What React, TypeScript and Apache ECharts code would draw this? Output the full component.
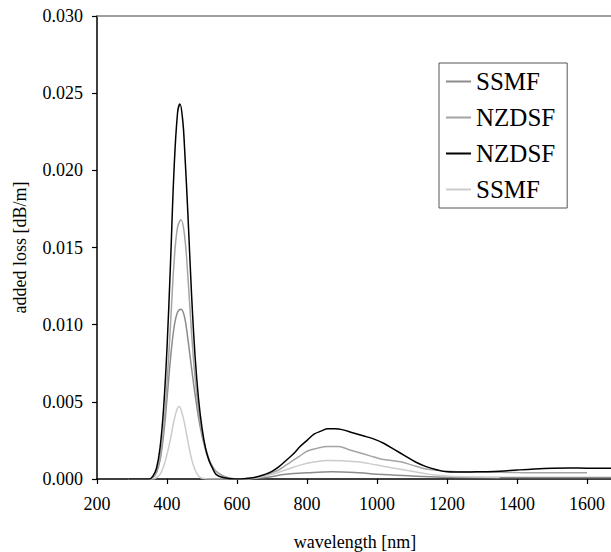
import React, { useEffect, useRef } from "react";
import * as echarts from "echarts";

// wavelength [nm], added loss [dB/m]
const ssmfA: [number, number][] = [
  [290, 0], [350, 0], [360, 0.0001], [370, 0.0004], [380, 0.0012], [390, 0.0028], [400, 0.0052],
  [410, 0.0078], [420, 0.0098], [430, 0.0108], [440, 0.011], [450, 0.0105], [460, 0.009],
  [470, 0.0072], [480, 0.0055], [490, 0.004], [500, 0.0028], [510, 0.0019], [520, 0.0012],
  [530, 0.0008], [540, 0.0005], [560, 0.0002], [580, 0.00005], [600, 0], [620, 0],
  [680, 0.0001], [740, 0.0003], [800, 0.0004], [870, 0.00047], [950, 0.0004], [1000, 0.0003],
  [1100, 0.0002], [1200, 0.00012], [1400, 0.0001], [1674, 0.0001],
];
const nzdsfB: [number, number][] = [
  [290, 0], [350, 0], [360, 0.0001], [370, 0.0005], [380, 0.0014], [390, 0.0032], [400, 0.0062],
  [410, 0.01], [420, 0.014], [430, 0.0163], [440, 0.0168], [450, 0.0158], [460, 0.013],
  [470, 0.0095], [480, 0.0066], [490, 0.0045], [500, 0.003], [510, 0.002], [520, 0.0013],
  [530, 0.0008], [540, 0.0005], [560, 0.0002], [580, 0.00005], [600, 0], [620, 0.00002],
  [650, 0.0001], [680, 0.0002], [700, 0.0004], [720, 0.0006], [740, 0.0009], [760, 0.0012],
  [780, 0.0015], [800, 0.0018], [830, 0.002], [860, 0.0021], [890, 0.0021], [920, 0.0019],
  [950, 0.0017], [980, 0.0015], [1010, 0.0013], [1040, 0.0012], [1070, 0.0011], [1100, 0.0009],
  [1130, 0.0007], [1160, 0.0006], [1200, 0.0005], [1300, 0.00045], [1400, 0.00042],
  [1500, 0.0004], [1600, 0.0004],
];
const nzdsfC: [number, number][] = [
  [290, 0], [350, 0], [360, 0.0002], [370, 0.0007], [380, 0.002], [390, 0.0045], [400, 0.0085],
  [410, 0.014], [420, 0.02], [430, 0.0237], [437, 0.0243], [445, 0.0232], [450, 0.0215],
  [460, 0.017], [470, 0.012], [480, 0.008], [490, 0.0052], [500, 0.0033], [510, 0.002],
  [520, 0.0012], [530, 0.0007], [540, 0.0003], [560, 0.0001], [600, 0], [620, 0.00002],
  [650, 0.0001], [680, 0.0003], [700, 0.0005], [720, 0.0008], [740, 0.0012], [760, 0.0016],
  [780, 0.0021], [800, 0.0025], [820, 0.0029], [840, 0.0031], [860, 0.00325], [880, 0.00325],
  [900, 0.0032], [930, 0.003], [960, 0.0028], [990, 0.0026], [1020, 0.0023], [1050, 0.0019],
  [1080, 0.0015], [1110, 0.0011], [1140, 0.0008], [1170, 0.0006], [1200, 0.00047],
  [1250, 0.00045], [1300, 0.00047], [1350, 0.0005], [1400, 0.00058], [1450, 0.00065],
  [1500, 0.0007], [1550, 0.00072], [1600, 0.0007], [1674, 0.0007],
];
const ssmfD: [number, number][] = [
  [290, 0], [360, 0], [370, 0.0001], [380, 0.0003], [390, 0.0008], [400, 0.0016], [410, 0.0026],
  [420, 0.0038], [430, 0.0046], [435, 0.0047], [440, 0.0045], [450, 0.0036], [460, 0.0024],
  [470, 0.0013], [480, 0.0006], [490, 0.0002], [500, 0.00005], [520, 0], [620, 0],
  [660, 0.0001], [700, 0.0003], [740, 0.0006], [780, 0.0009], [820, 0.0011], [860, 0.0012],
  [900, 0.00118], [950, 0.0011], [1000, 0.0009], [1050, 0.0007], [1100, 0.0005], [1150, 0.0003],
  [1200, 0.0002], [1250, 0.00015], [1350, 0.0001],
];

const seriesNames = ["SSMF#1", "NZDSF#2", "NZDSF#3", "SSMF#4"];
const seriesColors = ["#8c8c8c", "#a4a4a4", "#000000", "#cccccc"];
const seriesData = [ssmfA, nzdsfB, nzdsfC, ssmfD];

const FONT = "Liberation Serif";

export default function App() {
  const ref = useRef<HTMLDivElement>(null);
  useEffect(() => {
    if (!ref.current) return;
    const chart = echarts.init(ref.current, undefined, { renderer: "svg" });
    chart.setOption({
      animation: false,
      textStyle: { fontFamily: FONT },
      grid: { left: 97, top: 16, bottom: 73, right: -2, containLabel: false, outerBoundsMode: "none" },
      legend: {
        orient: "vertical",
        left: 439,
        top: 63,
        padding: [6, 12, 6, 7],
        itemGap: 11,
        itemWidth: 25,
        itemHeight: 2,
        icon: "rect",
        borderColor: "#555",
        borderWidth: 1,
        backgroundColor: "#fff",
        data: seriesNames,
        formatter: (name: string) => name.split("#")[0],
        textStyle: { fontFamily: FONT, fontSize: 25, color: "#000", lineHeight: 25 },
      },
      xAxis: [
        {
          type: "value",
          min: 200,
          max: 1674,
          interval: 200,
          name: "wavelength [nm]",
          nameLocation: "middle",
          nameGap: 54,
          nameTextStyle: { fontFamily: FONT, fontSize: 18, color: "#000" },
          axisLine: { show: true, lineStyle: { color: "#000", width: 1.5 } },
          axisTick: { show: true, inside: false, length: 5, lineStyle: { color: "#000", width: 1.2 } },
          axisLabel: {
            margin: 16,
            fontFamily: FONT,
            fontSize: 18,
            color: "#000",
            showMaxLabel: false,
            formatter: (v: number) => String(v),
          },
          splitLine: { show: false },
        },
        {
          type: "value",
          position: "top",
          min: 200,
          max: 1674,
          axisLine: { show: true, onZero: false, lineStyle: { color: "#808080", width: 1.5 } },
          axisTick: { show: false },
          axisLabel: { show: false },
          splitLine: { show: false },
        },
      ],
      yAxis: {
        type: "value",
        min: 0,
        max: 0.03,
        interval: 0.005,
        name: "added loss [dB/m]",
        nameLocation: "middle",
        nameGap: 68,
        nameRotate: 90,
        nameTextStyle: { fontFamily: FONT, fontSize: 18, color: "#000" },
        axisLine: { show: true, lineStyle: { color: "#000", width: 1.5 } },
        axisTick: { show: true, inside: false, length: 5, lineStyle: { color: "#000", width: 1.2 } },
        axisLabel: {
          margin: 14,
          fontFamily: FONT,
          fontSize: 18,
          color: "#000",
          formatter: (v: number) => v.toFixed(3),
        },
        splitLine: { show: false },
      },
      series: seriesData.map((d, i) => ({
        type: "line",
        name: seriesNames[i],
        data: d,
        xAxisIndex: 0,
        showSymbol: false,
        symbol: "none",
        smooth: 0.4,
        color: seriesColors[i],
        lineStyle: { color: seriesColors[i], width: 1.5 },
        z: i === 2 ? 3 : 2,
      })),
    });
    return () => chart.dispose();
  }, []);
  return <div ref={ref} style={{ width: 611, height: 552, position: "absolute", left: 0, top: 0 }} />;
}
